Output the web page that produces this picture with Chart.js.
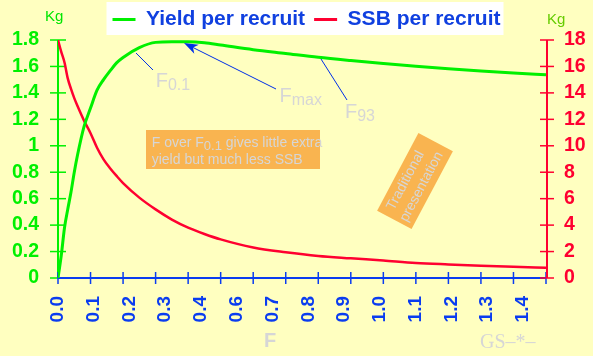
<!DOCTYPE html>
<html><head><meta charset="utf-8">
<script src="https://cdn.jsdelivr.net/npm/chart.js@4.4.1/dist/chart.umd.min.js"></script>
<style>html,body{margin:0;padding:0;background:#ffffc0;}#c{display:block;}</style>
</head><body>
<canvas id="c" width="593" height="356"></canvas>
<script>
// ---- data ----
const fishingMortality = [0, 0.01, 0.02, 0.03, 0.04, 0.05, 0.06, 0.08, 0.10, 0.12, 0.14, 0.16, 0.18, 0.20, 0.25, 0.30, 0.35, 0.40, 0.45, 0.50, 0.60, 0.70, 0.80, 0.90, 1.00, 1.10, 1.20, 1.30, 1.40, 1.50];
const yieldPerRecruit = [0, 0.17, 0.38, 0.52, 0.65, 0.80, 0.93, 1.145, 1.285, 1.42, 1.50, 1.566, 1.627, 1.668, 1.742, 1.782, 1.786, 1.786, 1.779, 1.762, 1.727, 1.698, 1.669, 1.645, 1.623, 1.602, 1.583, 1.566, 1.551, 1.537];
const ssbPerRecruit = [18.0, 17.1, 16.3, 15.1, 14.3, 13.6, 13.0, 11.9, 10.95, 9.85, 8.97, 8.3, 7.72, 7.18, 6.08, 5.19, 4.42, 3.81, 3.33, 2.92, 2.31, 1.95, 1.67, 1.49, 1.32, 1.135, 1.025, 0.93, 0.85, 0.78];
const xTickLabels = ['0.0','0.1','0.2','0.3','0.4','0.6','0.7','0.8','0.9','1.0','1.1','1.2','1.3','1.4'];
const leftTicks = [0, 0.2, 0.4, 0.6, 0.8, 1, 1.2, 1.4, 1.6, 1.8];
const rightTicks = [0, 2, 4, 6, 8, 10, 12, 14, 16, 18];
const seriesNames = ['Yield per recruit', 'SSB per recruit'];

// ---- styling ----
const SANS = "'Liberation Sans', Arial, sans-serif";
const SERIF = "'Liberation Serif', 'Times New Roman', serif";
const BG = '#ffffc0', GREEN = '#00f000', RED = '#ff0030', BLUE = '#0a3cf0';
const TXT_BLUE = '#1040e0', GREY = '#d6d6d6', ORANGE = '#f9b450';
const X_LABEL_STEP = 0.1099;

function seg(ctx, x1, y1, x2, y2) { ctx.beginPath(); ctx.moveTo(x1, y1); ctx.lineTo(x2, y2); ctx.stroke(); }
function subText(ctx, x, y, main, sub, mainSize, subSize, drop) {
  ctx.font = mainSize + 'px ' + SANS;
  ctx.fillText(main, x, y);
  const w = ctx.measureText(main).width;
  ctx.font = subSize + 'px ' + SANS;
  ctx.fillText(sub, x + w, y + drop);
  return x + w + ctx.measureText(sub).width;
}

const deco = {
  id: 'deco',
  afterLayout(chart) {
    if (chart.legend) { chart.legend.left += 10; chart.legend.right += 10; }
  },
  beforeDraw(chart) {
    const ctx = chart.ctx;
    ctx.save();
    ctx.fillStyle = BG;
    ctx.fillRect(0, 0, chart.width, chart.height);
    const hb = chart.legend && chart.legend.legendHitBoxes;
    if (hb && hb.length) {
      const l = hb[0].left - 6;
      const last = hb[hb.length - 1];
      const r = last.left + last.width + 3;
      ctx.fillStyle = '#ffffff';
      ctx.fillRect(l, 2, r - l, 33);
    }
    ctx.restore();
  },
  beforeDatasetsDraw(chart) {
    const ctx = chart.ctx, a = chart.chartArea, s = chart.scales;
    ctx.save();
    // left axis (green)
    ctx.strokeStyle = GREEN; ctx.lineWidth = 2;
    seg(ctx, a.left, a.top, a.left, a.bottom);
    ctx.lineWidth = 1.5;
    leftTicks.forEach(v => { const y = s.yL.getPixelForValue(v); seg(ctx, a.left - 8, y, a.left + 8, y); });
    // x axis (blue)
    ctx.strokeStyle = BLUE; ctx.lineWidth = 2;
    seg(ctx, a.left, a.bottom, a.right, a.bottom);
    ctx.lineWidth = 1.5;
    s.x.ticks.forEach(t => { const x = s.x.getPixelForValue(t.value); seg(ctx, x, a.bottom - 6, x, a.bottom + 6); });
    // right axis (red)
    ctx.strokeStyle = RED; ctx.lineWidth = 2;
    seg(ctx, a.right + 1, a.top, a.right + 1, a.bottom);
    ctx.lineWidth = 1.5;
    rightTicks.forEach(v => { const y = s.yR.getPixelForValue(v); seg(ctx, a.right - 6, y, a.right + 8, y); });
    ctx.restore();
  },
  afterDatasetsDraw(chart) {
    const ctx = chart.ctx;
    ctx.save();
    // pointer lines
    ctx.strokeStyle = '#0030e8'; ctx.lineWidth = 1;
    seg(ctx, 136, 53, 153, 70);
    seg(ctx, 321, 59, 347, 100);
    seg(ctx, 276, 89, 190, 46);
    // arrow head at Fmax
    const tipX = 184, tipY = 43;
    const dx = tipX - 276, dy = tipY - 89, len = Math.hypot(dx, dy);
    const ux = dx / len, uy = dy / len, px = -uy, py = ux;
    const bx = tipX - ux * 14, by = tipY - uy * 14;
    ctx.fillStyle = '#0030e8';
    ctx.beginPath();
    ctx.moveTo(tipX, tipY);
    ctx.lineTo(bx + px * 5, by + py * 5);
    ctx.lineTo(tipX - ux * 10, tipY - uy * 10);
    ctx.lineTo(bx - px * 5, by - py * 5);
    ctx.closePath(); ctx.fill();

    // F labels
    ctx.fillStyle = GREY; ctx.textBaseline = 'alphabetic'; ctx.textAlign = 'left';
    subText(ctx, 155.7, 86.7, 'F', '0.1', 20, 16, 3.5);
    subText(ctx, 279.5, 101.5, 'F', 'max', 20, 16, 3.5);
    subText(ctx, 345, 117.5, 'F', '93', 20, 16, 3.5);

    // orange note box
    ctx.fillStyle = ORANGE;
    ctx.fillRect(146, 130, 174, 39);
    ctx.fillStyle = GREY;
    let x = subText(ctx, 151.7, 146.7, 'F over F', '0.1', 14, 13, 3);
    ctx.font = '14px ' + SANS;
    ctx.fillText(' gives little extra', x, 146.7);
    ctx.fillText('yield but much less SSB', 151.7, 164.3);

    // rotated box
    ctx.save();
    ctx.translate(415, 181);
    ctx.rotate(-62 * Math.PI / 180);
    ctx.fillStyle = ORANGE;
    ctx.fillRect(-44, -19.5, 88, 39);
    ctx.fillStyle = GREY;
    ctx.font = '14px ' + SANS;
    ctx.textAlign = 'center'; ctx.textBaseline = 'middle';
    ctx.fillText('Traditional', -4, -8.5);
    ctx.fillText('presentation', -2, 8.5);
    ctx.restore();

    // units
    ctx.textAlign = 'left'; ctx.textBaseline = 'alphabetic';
    ctx.font = '15px ' + SANS;
    ctx.fillStyle = '#00e600';
    ctx.fillText('Kg', 45, 20.5);
    ctx.fillStyle = '#66cc00';
    ctx.fillText('Kg', 547, 24);

    // x title and credit
    ctx.fillStyle = GREY;
    ctx.font = 'bold 20px ' + SANS;
    ctx.fillText('F', 264, 347);
    ctx.font = '20px ' + SERIF;
    ctx.fillText('GS\u2013*\u2013', 480, 348);
    ctx.restore();
  }
};

const pts = vals => fishingMortality.map((f, i) => ({ x: f, y: vals[i] }));

new Chart(document.getElementById('c'), {
  type: 'line',
  data: {
    datasets: [
      { label: seriesNames[0], data: pts(yieldPerRecruit), xAxisID: 'x', yAxisID: 'yL',
        borderColor: GREEN, backgroundColor: GREEN, borderWidth: 3, pointRadius: 0, cubicInterpolationMode: 'monotone', fill: false },
      { label: seriesNames[1], data: pts(ssbPerRecruit), xAxisID: 'x', yAxisID: 'yR',
        borderColor: RED, backgroundColor: RED, borderWidth: 2.5, pointRadius: 0, cubicInterpolationMode: 'monotone', fill: false }
    ]
  },
  options: {
    responsive: false,
    animation: false,
    events: [],
    layout: { padding: 0 },
    plugins: {
      tooltip: { enabled: false },
      legend: {
        position: 'top',
        labels: {
          boxWidth: 23, boxHeight: 3, padding: 9, color: TXT_BLUE,
          font: { family: SANS, size: 21, weight: 'bold' },
          generateLabels: chart => chart.data.datasets.map((ds, i) => ({
            text: ds.label, fillStyle: ds.borderColor, strokeStyle: ds.borderColor,
            lineWidth: 0, hidden: false, datasetIndex: i, fontColor: TXT_BLUE
          }))
        }
      }
    },
    scales: {
      x: {
        type: 'linear', position: 'bottom', weight: 0, min: 0, max: 1.5,
        ticks: { display: false, stepSize: 0.1 },
        grid: { display: false, drawTicks: false }, border: { display: false }
      },
      xl: {
        type: 'linear', position: 'bottom', weight: 1, min: 0, max: 1.5,
        grid: { display: false, drawTicks: false }, border: { display: false },
        afterBuildTicks: sc => { sc.ticks = xTickLabels.map((_, i) => ({ value: i * X_LABEL_STEP })); },
        ticks: {
          autoSkip: false, minRotation: 90, maxRotation: 90, padding: 18, color: BLUE,
          font: { family: SANS, size: 19, weight: 'bold' },
          callback: (v, i) => xTickLabels[i]
        },
        afterFit: sc => { sc.height = 78; }
      },
      yL: {
        type: 'linear', position: 'left', min: 0, max: 1.8,
        afterBuildTicks: sc => { sc.ticks = leftTicks.map(v => ({ value: v })); },
        grid: { display: false, drawTicks: false }, border: { display: false },
        ticks: { color: GREEN, padding: 19, font: { family: SANS, size: 19.5, weight: 'bold' }, callback: v => String(v) },
        afterFit: sc => { sc.width = 58; }
      },
      yR: {
        type: 'linear', position: 'right', min: 0, max: 18,
        afterBuildTicks: sc => { sc.ticks = rightTicks.map(v => ({ value: v })); },
        grid: { display: false, drawTicks: false }, border: { display: false },
        ticks: { color: RED, padding: 18, font: { family: SANS, size: 19.5, weight: 'bold' }, callback: v => String(v) },
        afterFit: sc => { sc.width = 47; }
      }
    }
  },
  plugins: [deco]
});
</script>
</body></html>
